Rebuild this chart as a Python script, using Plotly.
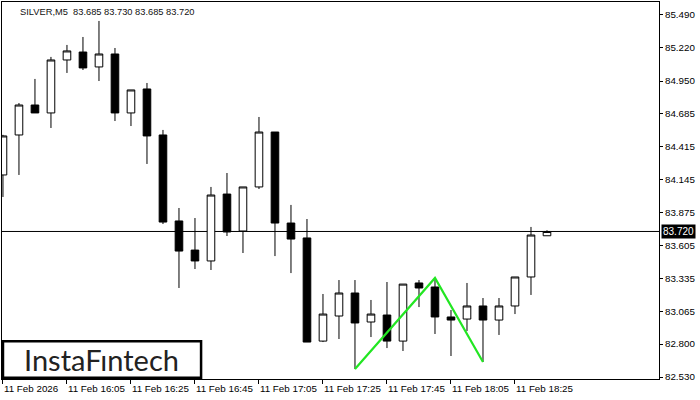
import plotly.graph_objects as go

times = ["15:45", "15:50", "15:55", "16:00", "16:05", "16:10", "16:15", "16:20", "16:25", "16:30",
         "16:35", "16:40", "16:45", "16:50", "16:55", "17:00", "17:05", "17:10", "17:15", "17:20",
         "17:25", "17:30", "17:35", "17:40", "17:45", "17:50", "17:55", "18:00", "18:05", "18:10",
         "18:15", "18:20", "18:25", "18:30", "18:35"]
opens = [84.182, 84.509, 84.754, 84.689, 85.122, 85.187, 85.065, 85.171, 84.689, 84.885,
         84.509, 83.806, 83.568, 83.479, 84.026, 83.724, 84.084, 84.533, 83.789, 83.667,
         82.824, 83.029, 83.217, 82.980, 83.037, 82.824, 83.299, 83.266, 83.021, 83.004,
         83.111, 82.996, 83.111, 83.348, 83.685]
highs = [84.510, 84.770, 84.967, 85.147, 85.245, 85.310, 85.441, 85.220, 84.877, 84.934,
         84.550, 83.912, 83.830, 84.084, 84.198, 84.084, 84.656, 84.533, 83.937, 83.822,
         83.209, 83.323, 83.323, 83.160, 83.307, 83.290, 83.323, 83.340, 83.078, 83.299,
         83.176, 83.176, 83.348, 83.757, 83.730]
lows = [84.002, 84.182, 84.689, 84.566, 85.016, 85.040, 84.950, 84.623, 84.582, 84.272,
        83.781, 83.258, 83.413, 83.405, 83.683, 83.544, 84.067, 83.519, 83.380, 82.816,
        82.816, 82.841, 82.595, 82.857, 82.767, 82.743, 83.102, 82.882, 82.702, 82.906,
        82.653, 82.874, 83.045, 83.201, 83.685]
closes = [84.501, 84.754, 84.689, 85.122, 85.196, 85.057, 85.171, 84.689, 84.877, 84.501,
          83.797, 83.560, 83.479, 84.018, 83.716, 84.084, 84.533, 83.789, 83.658, 82.816,
          83.045, 83.217, 82.972, 83.045, 82.824, 83.290, 83.258, 83.021, 82.996, 83.111,
          82.996, 83.111, 83.348, 83.691, 83.720]

pattern_idx = [22, 27, 30]
pattern_vals = [82.595, 83.340, 82.653]

current_price = 83.720
title_text = "SILVER,M5  83.685 83.730 83.685 83.720"

xtick_idx = [0, 4, 8, 12, 16, 20, 24, 28, 32]
xtick_text = ["11 Feb 2026", "11 Feb 16:05", "11 Feb 16:25", "11 Feb 16:45", "11 Feb 17:05",
              "11 Feb 17:25", "11 Feb 17:45", "11 Feb 18:05", "11 Feb 18:25"]
ytick_vals = [85.490, 85.220, 84.950, 84.685, 84.415, 84.145, 83.875, 83.605,
              83.335, 83.065, 82.800, 82.530]
ytick_text = ["%.3f" % v for v in ytick_vals]

xs = list(range(len(times)))
font_fam = "Liberation Sans, Arial, sans-serif"

fig = go.Figure()
fig.add_trace(go.Candlestick(
    x=xs, open=opens, high=highs, low=lows, close=closes,
    increasing=dict(fillcolor="white", line=dict(color="black", width=1)),
    decreasing=dict(fillcolor="black", line=dict(color="black", width=1)),
    whiskerwidth=0, showlegend=False, hoverinfo="skip",
))
fig.add_trace(go.Scatter(
    x=[xs[i] for i in pattern_idx], y=pattern_vals, mode="lines",
    line=dict(color="#22e622", width=2.2), showlegend=False, hoverinfo="skip",
))

fig.add_shape(type="line", xref="paper", x0=0, x1=1, yref="y", y0=current_price, y1=current_price,
              line=dict(color="black", width=1), layer="below")

fig.add_annotation(xref="paper", x=1.0, xanchor="left", xshift=2, yref="y", y=current_price,
                   text="%.3f" % current_price, showarrow=False, bgcolor="black",
                   font=dict(color="white", size=10, family=font_fam), borderpad=1)

fig.add_annotation(xref="paper", yref="paper", x=0.024, y=0.993, xanchor="left", yanchor="top",
                   text=title_text, showarrow=False,
                   font=dict(color="#111111", size=9.3, family=font_fam))

fig.add_shape(type="rect", xref="paper", yref="paper", x0=0.0015, x1=0.303, y0=0.003, y1=0.1,
              line=dict(color="black", width=2.5), fillcolor="white", layer="above")
fig.add_annotation(xref="paper", yref="paper", x=0.152, y=0.052, xanchor="center", yanchor="middle",
                   text="InstaF\u0131ntech", showarrow=False,
                   font=dict(color="#222222", size=29, family="Lato, Noto Sans, sans-serif"))

fig.update_layout(
    width=700, height=400,
    margin=dict(l=2, r=41, t=2, b=21, autoexpand=False),
    paper_bgcolor="white", plot_bgcolor="white",
    boxgap=0.32,
    xaxis=dict(
        range=[-0.06, 41], rangeslider=dict(visible=False), showgrid=False, zeroline=False,
        tickmode="array", tickvals=xtick_idx, ticktext=xtick_text, tickangle=0, automargin=False,
        ticks="outside", ticklen=4, tickcolor="black", ticklabelposition="outside right",
        showline=True, linecolor="black", linewidth=1, mirror=True,
        tickfont=dict(size=9.8, color="black", family=font_fam),
    ),
    yaxis=dict(
        range=[82.514, 85.596], side="right", showgrid=False, zeroline=False, automargin=False,
        tickmode="array", tickvals=ytick_vals, ticktext=ytick_text,
        ticks="outside", ticklen=3, tickcolor="black",
        showline=True, linecolor="black", linewidth=1, mirror=True,
        tickfont=dict(size=9.8, color="black", family=font_fam),
    ),
)

fig.write_html("out.html", config={"displayModeBar": False},
               post_script="document.body.style.margin='0';document.body.style.overflow='hidden';")
